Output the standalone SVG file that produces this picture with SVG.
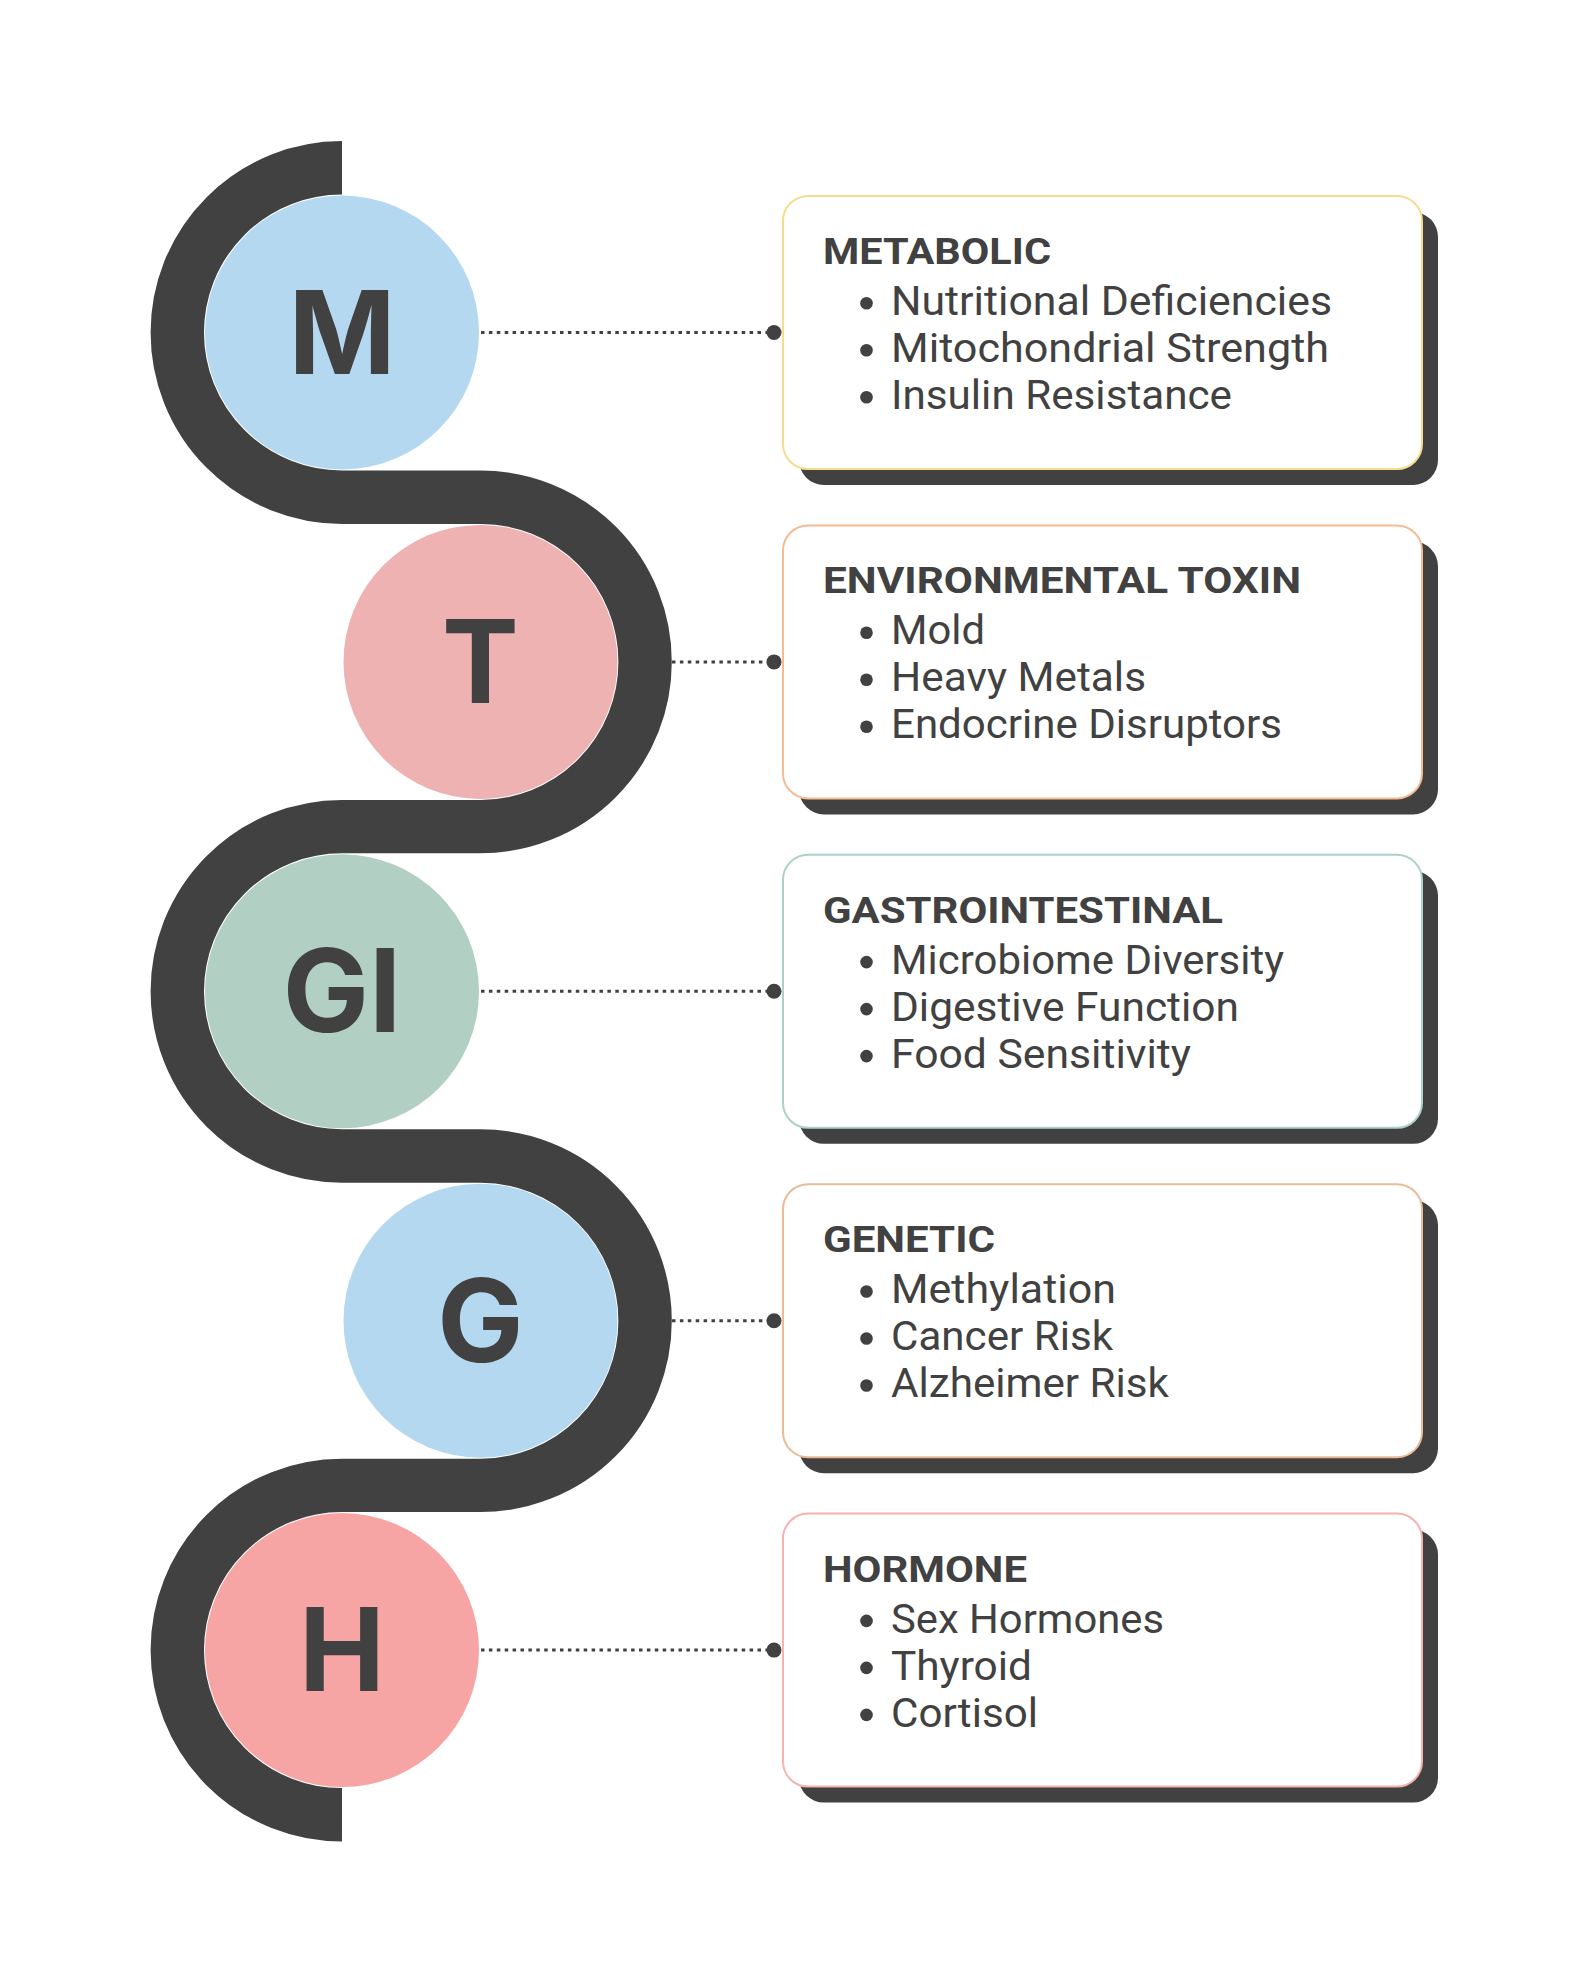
<svg xmlns="http://www.w3.org/2000/svg" width="1587" height="1983" viewBox="0 0 1587 1983">
<style>
.snake{fill:none;stroke:#414141;stroke-width:53.4;stroke-linecap:butt}
.letter{font-family:Inter,"Liberation Sans",sans-serif;font-weight:700;font-size:115px;fill:#414141;text-anchor:middle}
.shadow{fill:#414141}
.box{fill:#ffffff;stroke-width:2}
.title{font-family:Roboto,"Liberation Sans",sans-serif;font-weight:700;font-size:36px;fill:#414141}
.item{font-family:Roboto,"Liberation Sans",sans-serif;font-size:40px;fill:#414141}
.bullet{fill:#414141}
.dots{stroke:#414141;stroke-width:3;stroke-dasharray:3.5 4.4;fill:none}
.end{fill:#414141}
</style>
<rect width="1587" height="1983" fill="#ffffff"/>
<g id="snake">
<path class="snake" d="M342 167.8 A164.7 164.7 0 0 0 342 497.2 L480.5 497.2 A164.7 164.7 0 0 1 480.5 826.6 L342 826.6 A164.7 164.7 0 0 0 342 1156 L480.5 1156 A164.7 164.7 0 0 1 480.5 1485.4 L342 1485.4 A164.7 164.7 0 0 0 342 1814.8"/>
</g>
<g id="connectors">
<line class="dots" x1="481" y1="332.5" x2="768" y2="332.5"/><circle class="end" cx="774" cy="332.5" r="7.5"/>
<line class="dots" x1="672" y1="661.9" x2="768" y2="661.9"/><circle class="end" cx="774" cy="661.9" r="7.5"/>
<line class="dots" x1="481" y1="991.3" x2="768" y2="991.3"/><circle class="end" cx="774" cy="991.3" r="7.5"/>
<line class="dots" x1="672" y1="1320.7" x2="768" y2="1320.7"/><circle class="end" cx="774" cy="1320.7" r="7.5"/>
<line class="dots" x1="481" y1="1650.1" x2="768" y2="1650.1"/><circle class="end" cx="774" cy="1650.1" r="7.5"/>
</g>
<g id="node-metabolic">
<circle cx="342" cy="332.5" r="137" fill="#b3d8f0"/>
<text class="letter" x="342" y="373.5">M</text>
<rect class="shadow" x="799" y="212" width="639" height="273" rx="25"/>
<rect class="box" x="783" y="196" width="639" height="273" rx="25" stroke="#f7dc8e"/>
<text class="title" x="823" y="264" textLength="228" lengthAdjust="spacingAndGlyphs">METABOLIC</text>
<circle class="bullet" cx="866.5" cy="303.3" r="6.3"/><text class="item" x="891" y="315" textLength="441" lengthAdjust="spacingAndGlyphs">Nutritional Deficiencies</text>
<circle class="bullet" cx="866.5" cy="350.3" r="6.3"/><text class="item" x="891" y="362" textLength="438" lengthAdjust="spacingAndGlyphs">Mitochondrial Strength</text>
<circle class="bullet" cx="866.5" cy="397.3" r="6.3"/><text class="item" x="891" y="409" textLength="341" lengthAdjust="spacingAndGlyphs">Insulin Resistance</text>
</g>
<g id="node-toxin">
<circle cx="480.5" cy="661.9" r="137" fill="#efb2b2"/>
<text class="letter" x="480.5" y="702.9">T</text>
<rect class="shadow" x="799" y="541.4" width="639" height="273" rx="25"/>
<rect class="box" x="783" y="525.4" width="639" height="273" rx="25" stroke="#f6bb92"/>
<text class="title" x="823" y="593.4" textLength="478" lengthAdjust="spacingAndGlyphs">ENVIRONMENTAL TOXIN</text>
<circle class="bullet" cx="866.5" cy="632.7" r="6.3"/><text class="item" x="891" y="644.4" textLength="94" lengthAdjust="spacingAndGlyphs">Mold</text>
<circle class="bullet" cx="866.5" cy="679.7" r="6.3"/><text class="item" x="891" y="691.4" textLength="255" lengthAdjust="spacingAndGlyphs">Heavy Metals</text>
<circle class="bullet" cx="866.5" cy="726.7" r="6.3"/><text class="item" x="891" y="738.4" textLength="391" lengthAdjust="spacingAndGlyphs">Endocrine Disruptors</text>
</g>
<g id="node-gi">
<circle cx="342" cy="991.3" r="137" fill="#b2cfc4"/>
<text class="letter" x="342" y="1032.3">GI</text>
<rect class="shadow" x="799" y="870.8" width="639" height="273" rx="25"/>
<rect class="box" x="783" y="854.8" width="639" height="273" rx="25" stroke="#a9d2cb"/>
<text class="title" x="823" y="922.8" textLength="400" lengthAdjust="spacingAndGlyphs">GASTROINTESTINAL</text>
<circle class="bullet" cx="866.5" cy="962.1" r="6.3"/><text class="item" x="891" y="973.8" textLength="393" lengthAdjust="spacingAndGlyphs">Microbiome Diversity</text>
<circle class="bullet" cx="866.5" cy="1009.1" r="6.3"/><text class="item" x="891" y="1020.8" textLength="348" lengthAdjust="spacingAndGlyphs">Digestive Function</text>
<circle class="bullet" cx="866.5" cy="1056.1" r="6.3"/><text class="item" x="891" y="1067.8" textLength="300" lengthAdjust="spacingAndGlyphs">Food Sensitivity</text>
</g>
<g id="node-genetic">
<circle cx="480.5" cy="1320.7" r="137" fill="#b3d8f0"/>
<text class="letter" x="480.5" y="1361.7">G</text>
<rect class="shadow" x="799" y="1200.2" width="639" height="273" rx="25"/>
<rect class="box" x="783" y="1184.2" width="639" height="273" rx="25" stroke="#ebbb98"/>
<text class="title" x="823" y="1252.2" textLength="172" lengthAdjust="spacingAndGlyphs">GENETIC</text>
<circle class="bullet" cx="866.5" cy="1291.5" r="6.3"/><text class="item" x="891" y="1303.2" textLength="225" lengthAdjust="spacingAndGlyphs">Methylation</text>
<circle class="bullet" cx="866.5" cy="1338.5" r="6.3"/><text class="item" x="891" y="1350.2" textLength="222" lengthAdjust="spacingAndGlyphs">Cancer Risk</text>
<circle class="bullet" cx="866.5" cy="1385.5" r="6.3"/><text class="item" x="891" y="1397.2" textLength="278" lengthAdjust="spacingAndGlyphs">Alzheimer Risk</text>
</g>
<g id="node-hormone">
<circle cx="342" cy="1650.1" r="137" fill="#f7a4a4"/>
<text class="letter" x="342" y="1691.1">H</text>
<rect class="shadow" x="799" y="1529.6" width="639" height="273" rx="25"/>
<rect class="box" x="783" y="1513.6" width="639" height="273" rx="25" stroke="#f8b1b1"/>
<text class="title" x="823" y="1581.6" textLength="204" lengthAdjust="spacingAndGlyphs">HORMONE</text>
<circle class="bullet" cx="866.5" cy="1620.9" r="6.3"/><text class="item" x="891" y="1632.6" textLength="273" lengthAdjust="spacingAndGlyphs">Sex Hormones</text>
<circle class="bullet" cx="866.5" cy="1667.9" r="6.3"/><text class="item" x="891" y="1679.6" textLength="141" lengthAdjust="spacingAndGlyphs">Thyroid</text>
<circle class="bullet" cx="866.5" cy="1714.9" r="6.3"/><text class="item" x="891" y="1726.6" textLength="147" lengthAdjust="spacingAndGlyphs">Cortisol</text>
</g>
</svg>
